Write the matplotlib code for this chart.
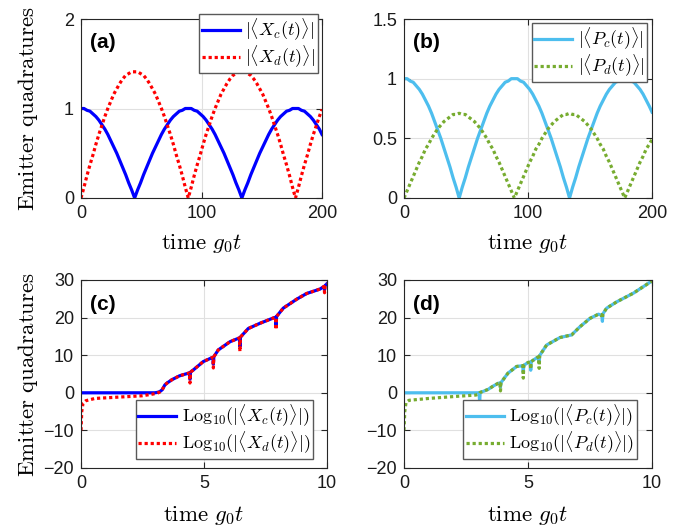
import matplotlib
matplotlib.use("Agg")
import matplotlib.pyplot as plt

plt.rcParams['mathtext.fontset'] = 'cm'
plt.rcParams['font.family'] = ['Liberation Sans', 'DejaVu Sans']

# ---------------- data: panels (a) and (b) ----------------
t_ab = [0, 2.47, 4.94, 7.42, 9.89, 12.36, 14.83, 17.31, 19.78, 22.25,
        24.72, 27.19, 29.67, 32.14, 34.61, 37.08, 39.56, 42.03, 44.50,
        46.97, 49.44, 51.92, 54.39, 56.86, 59.33, 61.81, 64.28, 66.75,
        69.22, 71.69, 74.17, 76.64, 79.11, 81.58, 84.06, 86.53, 89.00,
        91.47, 93.94, 96.42, 98.89, 101.36, 103.83, 106.31, 108.78, 111.25,
        113.72, 116.19, 118.67, 121.14, 123.61, 126.08, 128.56, 131.03, 133.50,
        135.97, 138.44, 140.92, 143.39, 145.86, 148.33, 150.81, 153.28, 155.75,
        158.22, 160.69, 163.17, 165.64, 168.11, 170.58, 173.06, 175.53, 178.00,
        180.47, 182.94, 185.42, 187.89, 190.36, 192.83, 195.31, 197.78, 200.00]
Xc = [1.00, 1.00, 0.98, 0.97, 0.94, 0.91, 0.87, 0.82, 0.77, 0.71,
      0.64, 0.57, 0.50, 0.42, 0.34, 0.26, 0.17, 0.09, 0.00,
      0.09, 0.17, 0.26, 0.34, 0.42, 0.50, 0.57, 0.64, 0.71,
      0.77, 0.82, 0.87, 0.91, 0.94, 0.97, 0.98, 1.00, 1.00,
      1.00, 0.98, 0.97, 0.94, 0.91, 0.87, 0.82, 0.77, 0.71,
      0.64, 0.57, 0.50, 0.42, 0.34, 0.26, 0.17, 0.09, 0.00,
      0.09, 0.17, 0.26, 0.34, 0.42, 0.50, 0.57, 0.64, 0.71,
      0.77, 0.82, 0.87, 0.91, 0.94, 0.97, 0.98, 1.00, 1.00,
      1.00, 0.98, 0.97, 0.94, 0.91, 0.87, 0.82, 0.77, 0.71]
Xd = [0.00, 0.12, 0.25, 0.37, 0.48, 0.60, 0.71, 0.81, 0.91, 1.00,
      1.08, 1.16, 1.22, 1.28, 1.33, 1.37, 1.39, 1.41, 1.41,
      1.41, 1.39, 1.37, 1.33, 1.28, 1.22, 1.16, 1.08, 1.00,
      0.91, 0.81, 0.71, 0.60, 0.48, 0.37, 0.25, 0.12, 0.00,
      0.12, 0.25, 0.37, 0.48, 0.60, 0.71, 0.81, 0.91, 1.00,
      1.08, 1.16, 1.22, 1.28, 1.33, 1.37, 1.39, 1.41, 1.41,
      1.41, 1.39, 1.37, 1.33, 1.28, 1.22, 1.16, 1.08, 1.00,
      0.91, 0.81, 0.71, 0.60, 0.48, 0.37, 0.25, 0.12, 0.00,
      0.12, 0.25, 0.37, 0.48, 0.60, 0.71, 0.81, 0.91, 0.99]
Pc = [1.00, 1.00, 0.98, 0.97, 0.94, 0.91, 0.87, 0.82, 0.77, 0.71,
      0.64, 0.57, 0.50, 0.42, 0.34, 0.26, 0.17, 0.09, 0.00,
      0.09, 0.17, 0.26, 0.34, 0.42, 0.50, 0.57, 0.64, 0.71,
      0.77, 0.82, 0.87, 0.91, 0.94, 0.97, 0.98, 1.00, 1.00,
      1.00, 0.98, 0.97, 0.94, 0.91, 0.87, 0.82, 0.77, 0.71,
      0.64, 0.57, 0.50, 0.42, 0.34, 0.26, 0.17, 0.09, 0.00,
      0.09, 0.17, 0.26, 0.34, 0.42, 0.50, 0.57, 0.64, 0.71,
      0.77, 0.82, 0.87, 0.91, 0.94, 0.97, 0.98, 1.00, 1.00,
      1.00, 0.98, 0.97, 0.94, 0.91, 0.87, 0.82, 0.77, 0.72]
Pd = [0.00, 0.06, 0.12, 0.18, 0.24, 0.30, 0.35, 0.41, 0.45, 0.50,
      0.54, 0.58, 0.61, 0.64, 0.66, 0.68, 0.70, 0.70, 0.71,
      0.70, 0.70, 0.68, 0.66, 0.64, 0.61, 0.58, 0.54, 0.50,
      0.45, 0.41, 0.35, 0.30, 0.24, 0.18, 0.12, 0.06, 0.00,
      0.06, 0.12, 0.18, 0.24, 0.30, 0.35, 0.41, 0.45, 0.50,
      0.54, 0.58, 0.61, 0.64, 0.66, 0.68, 0.70, 0.70, 0.71,
      0.70, 0.70, 0.68, 0.66, 0.64, 0.61, 0.58, 0.54, 0.50,
      0.45, 0.41, 0.35, 0.30, 0.24, 0.18, 0.12, 0.06, 0.00,
      0.06, 0.12, 0.18, 0.24, 0.30, 0.35, 0.41, 0.45, 0.49]

# ---------------- data: panel (c) ----------------
t_xc = [0, 3.0, 3.1, 3.2, 3.3, 3.41, 3.5, 3.7, 3.82, 4.0, 4.2, 4.36, 4.41, 4.43, 4.45,
        4.57, 4.97, 5.31, 5.36, 5.38, 5.40, 5.58, 6.06, 6.44, 6.46, 6.48,
        6.80, 7.28, 7.82, 7.91, 7.93, 7.95, 8.22, 8.77, 9.17, 9.72, 9.88, 9.90, 9.92, 10.0]
logXc = [0, 0.0, 0.1, 0.3, 0.8, 2.1, 2.6, 3.5, 3.9, 4.5, 4.9, 5.2, 5.3, 3.6, 5.5,
         6.1, 8.3, 9.3, 9.4, 7.6, 9.6, 11.4, 13.6, 14.6, 12.2, 14.8,
         17.1, 18.5, 19.9, 20.1, 18.0, 20.3, 22.5, 24.9, 26.4, 27.6, 28.3, 27.4, 28.5, 29.0]
t_xd = [0, 0.03, 0.08, 0.2, 0.57, 1.38, 2.47, 2.87, 3.1, 3.2, 3.3, 3.41, 3.5, 3.7, 3.82, 4.0, 4.2,
        4.36, 4.41, 4.43, 4.45, 4.57, 4.97, 5.31, 5.36, 5.38, 5.40, 5.58, 6.06, 6.44, 6.46, 6.48,
        6.80, 7.28, 7.82, 7.91, 7.93, 7.95, 8.22, 8.77, 9.17, 9.72, 9.88, 9.90, 9.92, 10.0]
logXd = [-10, -5.0, -2.8, -2.1, -1.5, -1.2, -0.8, -0.4, -0.1, 0.2, 0.8, 2.1, 2.6, 3.5, 3.9, 4.5, 4.9,
         5.2, 5.3, 2.6, 5.5, 6.1, 8.3, 9.3, 9.4, 6.6, 9.6, 11.4, 13.6, 14.6, 11.0, 14.8,
         17.1, 18.5, 19.9, 20.1, 16.8, 20.3, 22.5, 24.9, 26.4, 27.6, 28.3, 26.6, 28.5, 29.0]

# ---------------- data: panel (d) ----------------
t_pc = [0, 3.03, 3.05, 3.07, 3.2, 3.39, 3.6, 3.79, 3.87, 3.89, 3.91, 4.19, 4.54, 4.79, 4.81, 4.83,
        5.01, 5.09, 5.11, 5.13, 5.35, 5.43, 5.45, 5.47, 5.75, 6.29, 6.76, 7.10, 7.5, 7.84,
        7.98, 8.0, 8.02, 8.17, 8.58, 9.25, 9.92, 10.0]
logPc = [0, 0.0, -2.6, 0.1, 0.4, 0.9, 1.8, 2.5, 2.6, 1.5, 2.7, 5.2, 7.0, 7.2, 5.5, 7.3,
         8.1, 8.1, 6.0, 8.3, 9.3, 9.6, 8.0, 9.9, 12.7, 14.7, 15.4, 17.6, 19.8, 20.9,
         20.6, 19.0, 21.0, 22.5, 24.2, 26.5, 29.4, 29.7]
t_pd = [0, 0.03, 0.08, 0.2, 1.0, 2.0, 2.9, 3.03, 3.07, 3.2, 3.39, 3.6, 3.79, 3.87, 3.89, 3.91,
        4.19, 4.54, 4.79, 4.81, 4.83, 5.01, 5.09, 5.11, 5.13, 5.35, 5.43, 5.45, 5.47, 5.75,
        6.29, 6.76, 7.10, 7.5, 7.84, 7.98, 8.0, 8.02, 8.17, 8.58, 9.25, 9.92, 10.0]
logPd = [-10, -5.0, -2.6, -2.0, -1.5, -1.0, -0.6, -0.3, 0.1, 0.4, 0.9, 1.8, 2.5, 2.6, 0.5, 2.7,
         5.2, 7.0, 7.2, 3.9, 7.3, 8.1, 8.1, 6.3, 8.3, 9.3, 9.6, 6.5, 9.9, 12.7,
         14.7, 15.4, 17.6, 19.8, 20.9, 20.6, 19.8, 21.0, 22.5, 24.2, 26.5, 29.4, 29.7]

# ---------------- styling ----------------
BLUE = (0, 0, 1)
RED = (1, 0, 0)
LBLUE = (0.301, 0.745, 0.933)
GREEN = (0.466, 0.674, 0.188)
LW = 2.3
DOT = (0, (1, 0.9))
TICK_FS = 13
LAB_FS = 16.5
LEG_FS = 13

fig = plt.figure(figsize=(6.97, 5.28), dpi=100)
W, H = 697, 528


def add_ax(l, r, t, b):
    return fig.add_axes([l / W, 1 - b / H, (r - l) / W, (b - t) / H])


axa = add_ax(81, 322, 19, 198)
axb = add_ax(404, 652, 19, 198)
axc = add_ax(81, 327, 280, 468)
axd = add_ax(404, 652, 280, 468)


def style(ax, xlim, ylim, xt, yt, ytl=None, xly=-0.19):
    ax.set_xlim(*xlim)
    ax.set_ylim(*ylim)
    ax.set_xticks(xt)
    ax.set_yticks(yt)
    if ytl is not None:
        ax.set_yticklabels(ytl)
    ax.tick_params(direction='in', length=4, width=0.8, top=True, right=True,
                   labelsize=TICK_FS, colors='0.15', pad=5)
    ax.tick_params(labelcolor='0.1')
    ax.grid(True, color='0.88', linewidth=0.8)
    ax.set_axisbelow(True)
    for s in ax.spines.values():
        s.set_color('0.15')
        s.set_linewidth(0.8)
    ax.set_xlabel(r'$\mathrm{time}\ g_0t$', fontsize=LAB_FS)
    ax.xaxis.set_label_coords(0.5, xly)


def legend(ax, loc, anchor):
    lg = ax.legend(loc=loc, bbox_to_anchor=anchor, borderaxespad=0, fontsize=LEG_FS,
                   frameon=True, fancybox=False, framealpha=1, edgecolor='0.35',
                   handlelength=2.1, handletextpad=0.3, labelspacing=0.05,
                   borderpad=0.15)
    lg.get_frame().set_linewidth(1.0)


# (a)
axa.plot(t_ab, Xc, color=BLUE, lw=LW, label=r'$|\langle X_c(t)\rangle|$')
axa.plot(t_ab, Xd, color=RED, lw=LW, linestyle=DOT, label=r'$|\langle X_d(t)\rangle|$')
style(axa, (0, 200), (0, 2), [0, 100, 200], [0, 1, 2])
axa.set_ylabel(r'$\mathrm{Emitter\ quadratures}$', fontsize=LAB_FS)
axa.yaxis.set_label_coords(-0.170, 0.5)
legend(axa, 'upper right', (0.983, 1.028))
axa.text(0.037, 0.87, '(a)', transform=axa.transAxes, fontsize=15, fontweight='bold',
         ha='left', va='center')

# (b)
axb.plot(t_ab, Pc, color=LBLUE, lw=LW, label=r'$|\langle P_c(t)\rangle|$')
axb.plot(t_ab, Pd, color=GREEN, lw=LW, linestyle=DOT, label=r'$|\langle P_d(t)\rangle|$')
style(axb, (0, 200), (0, 1.5), [0, 100, 200], [0, 0.5, 1, 1.5], ['0', '0.5', '1', '1.5'])
legend(axb, 'upper right', (0.980, 0.978))
axb.text(0.036, 0.87, '(b)', transform=axb.transAxes, fontsize=15, fontweight='bold',
         ha='left', va='center')

# (c)
axc.plot(t_xc, logXc, color=BLUE, lw=LW, label=r'$\mathrm{Log}_{10}(|\langle X_c(t)\rangle|)$')
axc.plot(t_xd, logXd, color=RED, lw=LW, linestyle=DOT, label=r'$\mathrm{Log}_{10}(|\langle X_d(t)\rangle|)$')
style(axc, (0, 10), (-20, 30), [0, 5, 10], [-20, -10, 0, 10, 20, 30], xly=-0.19)
axc.set_ylabel(r'$\mathrm{Emitter\ quadratures}$', fontsize=LAB_FS)
axc.yaxis.set_label_coords(-0.167, 0.5)
legend(axc, 'lower right', (0.943, 0.048))
axc.text(0.037, 0.872, '(c)', transform=axc.transAxes, fontsize=15, fontweight='bold',
         ha='left', va='center')

# (d)
axd.plot(t_pc, logPc, color=LBLUE, lw=LW, label=r'$\mathrm{Log}_{10}(|\langle P_c(t)\rangle|)$')
axd.plot(t_pd, logPd, color=GREEN, lw=LW, linestyle=DOT, label=r'$\mathrm{Log}_{10}(|\langle P_d(t)\rangle|)$')
style(axd, (0, 10), (-20, 30), [0, 5, 10], [-20, -10, 0, 10, 20, 30], xly=-0.19)
legend(axd, 'lower right', (0.940, 0.048))
axd.text(0.036, 0.872, '(d)', transform=axd.transAxes, fontsize=15, fontweight='bold',
         ha='left', va='center')

fig.savefig('out.png', dpi=100)
